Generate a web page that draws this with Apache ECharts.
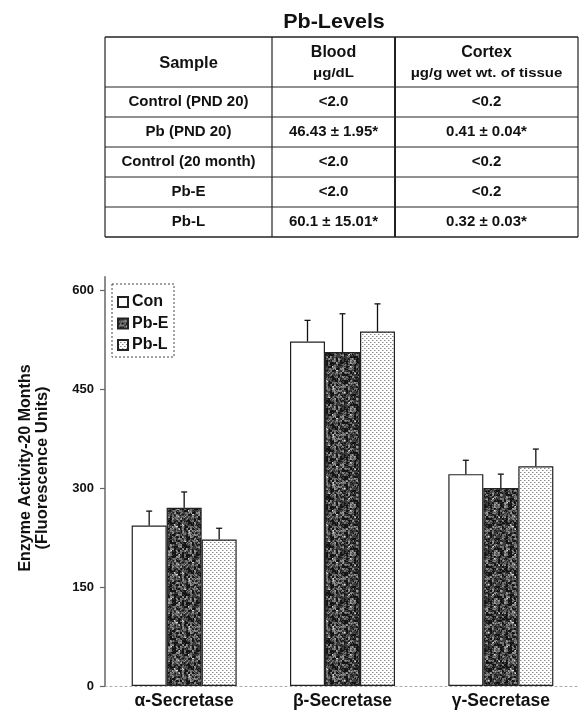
<!DOCTYPE html>
<html>
<head>
<meta charset="utf-8">
<script src="https://cdn.jsdelivr.net/npm/echarts@6/dist/echarts.min.js"></script>
<style>
html,body{margin:0;padding:0;background:#fff;}
#chart{width:580px;height:711px;}
</style>
</head>
<body>
<div id="chart"></div>
<script>
// ---- Data ----
const categories = ['α-Secretase', 'β-Secretase', 'γ-Secretase'];
const seriesNames = ['Con', 'Pb-E', 'Pb-L'];
const conValues = [243, 522, 321];
const pbEValues = [270, 506, 300];
const pbLValues = [222, 537, 333];
const conErrors = [22, 32, 21];
const pbEErrors = [24, 58, 21];
const pbLErrors = [17, 42, 26];
const yTickValues = [0, 150, 300, 450, 600];

const tableTitle = 'Pb-Levels';
const tableHeaders = ['Sample', 'Blood', 'Cortex'];
const tableUnits = ['', 'μg/dL', 'μg/g wet wt. of tissue'];
const tableSamples = ['Control (PND 20)', 'Pb (PND 20)', 'Control (20 month)', 'Pb-E', 'Pb-L'];
const tableBlood = ['<2.0', '46.43 ± 1.95*', '<2.0', '<2.0', '60.1 ± 15.01*'];
const tableCortex = ['<0.2', '0.41 ± 0.04*', '<0.2', '<0.2', '0.32 ± 0.03*'];

const FONT = '"Liberation Sans", Arial, Helvetica, sans-serif';

// ---- Patterns (deterministic textures) ----
function hash(x, y) {
  let h = (x * 374761393 + y * 668265263) | 0;
  h = Math.imul(h ^ (h >>> 13), 1274126177);
  h = h ^ (h >>> 16);
  return (h >>> 0) % 100;
}
function makeDarkPattern() {
  const N = 48;
  const c = document.createElement('canvas');
  c.width = N; c.height = N;
  const ctx = c.getContext('2d');
  for (let y = 0; y < N; y++) {
    for (let x = 0; x < N; x++) {
      const h = (hash(x >> 1, y >> 1) * 2 + hash(x + 101, y + 57)) / 3;
      let col;
      if (h < 36) col = '#141414';
      else if (h < 58) col = '#3c3c3c';
      else if (h < 78) col = '#707070';
      else if (h < 92) col = '#9a9a9a';
      else col = '#dcdcdc';
      ctx.fillStyle = col;
      ctx.fillRect(x, y, 1, 1);
    }
  }
  return c;
}
function makeDotPattern() {
  const c = document.createElement('canvas');
  c.width = 4; c.height = 4;
  const ctx = c.getContext('2d');
  ctx.fillStyle = '#ffffff';
  ctx.fillRect(0, 0, 4, 4);
  ctx.fillStyle = '#8a8a8a';
  ctx.fillRect(0, 0, 1, 1);
  ctx.fillRect(2, 2, 1, 1);
  ctx.fillStyle = '#c8c8c8';
  ctx.fillRect(1, 0, 1, 1);
  ctx.fillRect(3, 2, 1, 1);
  return c;
}
const darkPattern = { image: makeDarkPattern(), repeat: 'repeat' };
const dotPattern = { image: makeDotPattern(), repeat: 'repeat' };

const BAR_W = 35;

function barSeries(name, data, color) {
  return {
    name: name,
    type: 'bar',
    data: data,
    barWidth: BAR_W,
    barGap: '0%',
    itemStyle: { color: color, borderColor: '#222', borderWidth: 1.2 },
    emphasis: { disabled: true },
    z: 2
  };
}
function errorSeries(values, errors, idx) {
  return {
    type: 'custom',
    silent: true,
    z: 3,
    data: values.map((v, i) => [i, v, errors[i]]),
    encode: { x: 0, y: 1 },
    renderItem: function (params, api) {
      const cat = api.value(0), v = api.value(1), e = api.value(2);
      const off = (idx - 1) * BAR_W;
      const p0 = api.coord([cat, v]);
      const p1 = api.coord([cat, v + e]);
      const x = p0[0] + off;
      return {
        type: 'group',
        children: [
          { type: 'line', shape: { x1: x, y1: p0[1], x2: x, y2: p1[1] }, style: { stroke: '#111', lineWidth: 1.3 } },
          { type: 'line', shape: { x1: x - 3, y1: p1[1], x2: x + 3, y2: p1[1] }, style: { stroke: '#111', lineWidth: 1.3 } }
        ]
      };
    }
  };
}

// ---- Table graphics ----
const colX = [105, 272, 395, 578];
const rowY = [37, 87, 117, 147, 177, 207, 237];
const G = [];
function txt(x, y, s, size, opts) {
  opts = opts || {};
  const el = {
    type: 'text', x: x, y: y,
    style: { text: s, font: 'bold ' + size + 'px ' + FONT, fill: '#111', align: 'center', verticalAlign: 'middle' }
  };
  if (opts.scaleX) el.scaleX = opts.scaleX;
  if (opts.rotation) el.rotation = opts.rotation;
  return el;
}
G.push(txt(334, 22, tableTitle, 20.5, { scaleX: 1.05 }));
rowY.forEach((y, i) => {
  G.push({
    type: 'line', shape: { x1: colX[0], y1: y, x2: colX[3], y2: y },
    style: { stroke: '#222', lineWidth: (i === 0 || i === rowY.length - 1) ? 1.5 : 1 }
  });
});
colX.forEach((x, i) => {
  G.push({
    type: 'line', shape: { x1: x, y1: rowY[0], x2: x, y2: rowY[rowY.length - 1] },
    style: { stroke: '#222', lineWidth: i === 2 ? 2 : 1.2 }
  });
});
for (let c = 0; c < 3; c++) {
  const cx = (colX[c] + colX[c + 1]) / 2;
  if (tableUnits[c]) {
    G.push(txt(cx, 53, tableHeaders[c], 16));
    G.push(txt(cx, 74, tableUnits[c], 12.5, { scaleX: 1.2 }));
  } else {
    G.push(txt(cx, 63, tableHeaders[c], 16.5));
  }
}
const cols = [tableSamples, tableBlood, tableCortex];
for (let r = 0; r < tableSamples.length; r++) {
  const cy = (rowY[r + 1] + rowY[r + 2]) / 2;
  for (let c = 0; c < 3; c++) {
    const cx = (colX[c] + colX[c + 1]) / 2;
    G.push(txt(cx, cy, cols[c][r], 15));
  }
}
// y-axis title (two lines, reading bottom to top)
G.push(txt(26, 468, 'Enzyme Activity-20 Months', 16, { rotation: Math.PI / 2 }));
G.push(txt(42.5, 468, '(Fluorescence Units)', 16.5, { rotation: Math.PI / 2 }));
// dashed legend box
G.push({ type: 'rect', shape: { x: 112, y: 284, width: 62, height: 73 }, style: { fill: 'none', stroke: '#444', lineWidth: 1, lineDash: [2, 2] }, z: 5 });

const chart = echarts.init(document.getElementById('chart'), null, { renderer: 'canvas' });
chart.setOption({
  animation: false,
  backgroundColor: '#fff',
  textStyle: { fontFamily: FONT },
  grid: { left: 105, right: 0, top: 686 - 620 * 0.66, bottom: 25, containLabel: false },
  legend: {
    data: seriesNames,
    orient: 'vertical',
    left: 117, top: 294,
    itemWidth: 10, itemHeight: 10, itemGap: 5.5,
    padding: 0,
    icon: 'rect',
    textStyle: { fontFamily: FONT, fontWeight: 'bold', fontSize: 16, color: '#111', padding: [0, 0, 0, -1] },
    selectedMode: false
  },
  xAxis: {
    type: 'category',
    data: categories,
    axisLine: { show: true, lineStyle: { color: '#aaa', type: [2, 3], width: 1 } },
    axisTick: { show: false },
    axisLabel: { color: '#111', fontWeight: 'bold', fontSize: 17.5, margin: 6, fontFamily: FONT }
  },
  yAxis: {
    type: 'value',
    min: 0, max: 620,
    splitLine: { show: false },
    axisLine: { show: true, lineStyle: { color: '#666', width: 1.5 } },
    axisTick: { show: true, length: 5, lineStyle: { color: '#666', width: 1.2 }, customValues: yTickValues },
    axisLabel: { color: '#111', fontWeight: 'bold', fontSize: 13, margin: 11, fontFamily: FONT, customValues: yTickValues }
  },
  graphic: G,
  series: [
    barSeries('Con', conValues, '#ffffff'),
    barSeries('Pb-E', pbEValues, darkPattern),
    barSeries('Pb-L', pbLValues, dotPattern),
    errorSeries(conValues, conErrors, 0),
    errorSeries(pbEValues, pbEErrors, 1),
    errorSeries(pbLValues, pbLErrors, 2)
  ]
});
</script>
</body>
</html>
